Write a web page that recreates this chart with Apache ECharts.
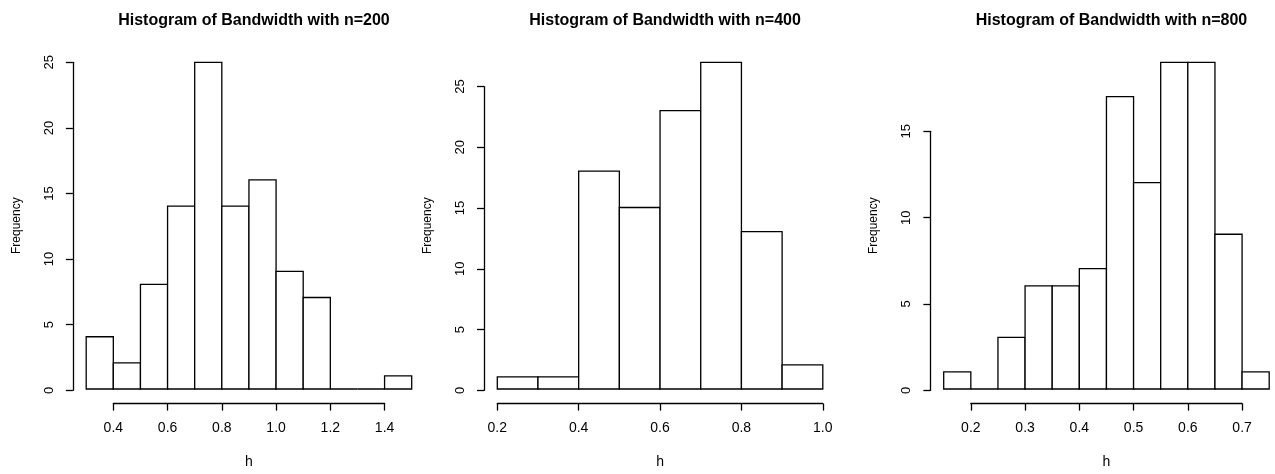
<!DOCTYPE html>
<html lang="en">
<head>
    <meta charset="UTF-8">
    <title>Histogram of Bandwidth</title>
    <script src="https://cdn.jsdelivr.net/npm/echarts@6/dist/echarts.min.js"></script>
    <style>
        html, body { margin: 0; padding: 0; background: #fff; }
    </style>
</head>
<body>
    <div id="main" style="width:1275px;height:474px;"></div>
    <script>
        // histogram bins: breaks + counts
        var titles = ['Histogram of Bandwidth with n=200', 'Histogram of Bandwidth with n=400', 'Histogram of Bandwidth with n=800'];

        var breaks200 = [0.3, 0.4, 0.5, 0.6, 0.7, 0.8, 0.9, 1.0, 1.1, 1.2, 1.3, 1.4, 1.5];
        var counts200 = [4, 2, 8, 14, 25, 14, 16, 9, 7, 0, 0, 1];

        var breaks400 = [0.2, 0.3, 0.4, 0.5, 0.6, 0.7, 0.8, 0.9, 1.0];
        var counts400 = [1, 1, 18, 15, 23, 27, 13, 2];

        var breaks800 = [0.15, 0.2, 0.25, 0.3, 0.35, 0.4, 0.45, 0.5, 0.55, 0.6, 0.65, 0.7, 0.75];
        var counts800 = [1, 0, 3, 6, 6, 7, 17, 12, 19, 19, 9, 1];

        // axis ticks: [min, max, interval]
        var xTicks200 = [0.4, 1.4, 0.2];
        var xTicks400 = [0.2, 1.0, 0.2];
        var xTicks800 = [0.2, 0.7, 0.1];
        var yTicks200 = [0, 25, 5];
        var yTicks400 = [0, 25, 5];
        var yTicks800 = [0, 15, 5];

        var panels = [
            { breaks: breaks200, counts: counts200, xt: xTicks200, yt: yTicks200, left: 86.2 },
            { breaks: breaks400, counts: counts400, xt: xTicks400, yt: yTicks400, left: 497.3 },
            { breaks: breaks800, counts: counts800, xt: xTicks800, yt: yTicks800, left: 943.7 }
        ];

        var plotTop = 62.3, plotBottom = 390.3, plotW = 325.5, gap = 13.3;
        var plotH = plotBottom - plotTop;
        var font = 'Liberation Sans, Arial, Helvetica, sans-serif';
        var lw = 1.3;

        var grid = [], xAxis = [], yAxis = [], series = [], title = [];

        function renderBin(params, api) {
            var p0 = api.coord([api.value(0), 0]);
            var p1 = api.coord([api.value(1), api.value(2)]);
            return {
                type: 'rect',
                shape: { x: p0[0], y: p1[1], width: p1[0] - p0[0], height: p0[1] - p1[1] },
                style: { fill: '#fff', stroke: '#000', lineWidth: lw }
            };
        }

        panels.forEach(function (p, i) {
            var xmin = p.breaks[0], xmax = p.breaks[p.breaks.length - 1];
            var ymax = Math.max.apply(null, p.counts);
            var bins = p.counts.map(function (c, k) { return [p.breaks[k], p.breaks[k + 1], c]; });
            var sx = plotW / (xmax - xmin);
            var g = i * 3;

            // plot region
            grid.push({ left: p.left, top: plotTop, width: plotW, height: plotH });
            xAxis.push({
                gridIndex: g, type: 'value', min: xmin, max: xmax,
                axisLine: { show: false }, axisTick: { show: false }, axisLabel: { show: false }, splitLine: { show: false },
                name: 'h', nameLocation: 'middle', nameGap: 66,
                nameTextStyle: { fontFamily: font, fontSize: 14, color: '#000' }
            });
            yAxis.push({
                gridIndex: g, type: 'value', min: 0, max: ymax,
                axisLine: { show: false }, axisTick: { show: false }, axisLabel: { show: false }, splitLine: { show: false },
                name: 'Frequency', nameLocation: 'middle', nameGap: 64,
                nameTextStyle: { fontFamily: font, fontSize: 12, color: '#000' }
            });
            series.push({
                type: 'custom', xAxisIndex: g, yAxisIndex: g,
                renderItem: renderBin, data: bins, silent: true,
                encode: { x: [0, 1], y: 2 }
            });

            // x axis (only over the tick range)
            grid.push({
                left: p.left + (p.xt[0] - xmin) * sx, width: (p.xt[1] - p.xt[0]) * sx,
                top: plotBottom + gap - 1, height: 1
            });
            xAxis.push({
                gridIndex: g + 1, type: 'value', min: p.xt[0], max: p.xt[1], interval: p.xt[2],
                axisLine: { lineStyle: { color: '#000', width: lw } },
                axisTick: { length: 7, lineStyle: { color: '#000', width: lw } },
                axisLabel: {
                    margin: 18, fontFamily: font, fontSize: 14, color: '#000',
                    formatter: function (v) { return v.toFixed(1); }
                },
                splitLine: { show: false }
            });
            yAxis.push({ gridIndex: g + 1, type: 'value', show: false });

            // y axis (only over the tick range)
            var yTop = plotBottom - plotH * (p.yt[1] / ymax);
            grid.push({ left: p.left - gap, width: 1, top: yTop, height: plotBottom - yTop });
            xAxis.push({ gridIndex: g + 2, type: 'value', show: false });
            yAxis.push({
                gridIndex: g + 2, type: 'value', min: p.yt[0], max: p.yt[1], interval: p.yt[2],
                axisLine: { show: true, lineStyle: { color: '#000', width: lw } },
                axisTick: { show: true, length: 7, lineStyle: { color: '#000', width: lw } },
                axisLabel: { rotate: 90, margin: 17, fontFamily: font, fontSize: 13, color: '#000' },
                splitLine: { show: false }
            });

            title.push({
                text: titles[i], left: p.left + plotW / 2, top: 8, textAlign: 'center',
                textStyle: { fontFamily: font, fontSize: 16, fontWeight: 'bold', color: '#000' }
            });
        });

        var myChart = echarts.init(document.getElementById('main'));
        myChart.setOption({
            animation: false,
            backgroundColor: '#fff',
            title: title,
            grid: grid,
            xAxis: xAxis,
            yAxis: yAxis,
            series: series
        });
    </script>
</body>
</html>
